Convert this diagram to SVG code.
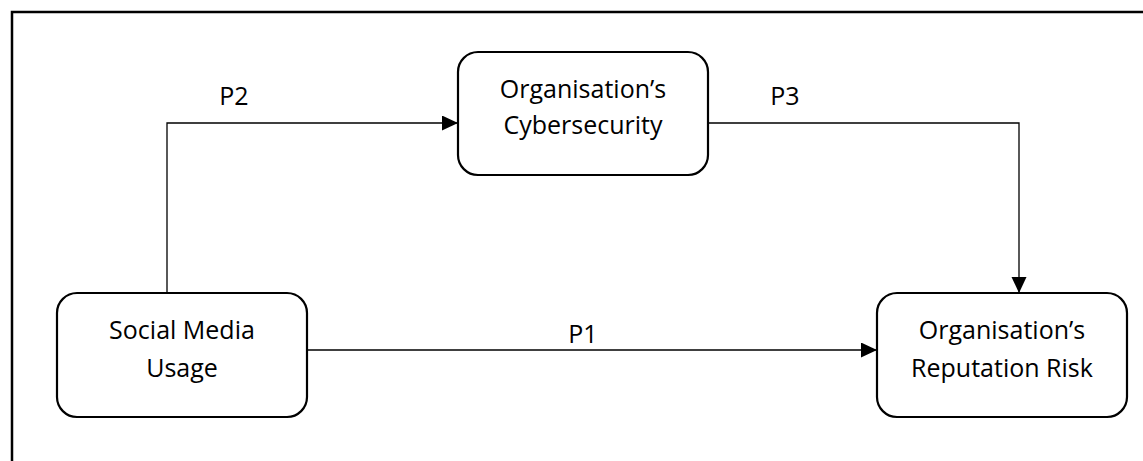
<svg xmlns="http://www.w3.org/2000/svg" width="1143" height="461" viewBox="0 0 1143 461">
  <style>
    .frame { fill: none; stroke: #000; stroke-width: 2.5; }
    .box { fill: #fff; stroke: #000; stroke-width: 2.2; }
    .conn { fill: none; stroke: #000; stroke-width: 1.3; }
    .lbl { font-family: "Open Sans", "Noto Sans", "Liberation Sans", sans-serif; font-size: 25px; fill: #000; text-anchor: middle; font-variant-ligatures: none; }
  </style>
  <defs>
    <marker id="arrow" markerUnits="userSpaceOnUse" markerWidth="18" markerHeight="16" refX="16" refY="7.5" orient="auto">
      <path d="M0,0 L16,7.5 L0,15 Z" fill="#000"/>
    </marker>
  </defs>
  <rect x="0" y="0" width="1143" height="461" fill="#fff"/>
  <path class="frame" d="M12,461 V12 H1143"/>
  <g id="connectors">
    <path class="conn" d="M167,293 V123 H458" marker-end="url(#arrow)"/>
    <path class="conn" d="M708,123 H1019 V293" marker-end="url(#arrow)"/>
    <path class="conn" d="M307,350 H877" marker-end="url(#arrow)"/>
    <text class="lbl" x="234" y="105">P2</text>
    <text class="lbl" x="785" y="105">P3</text>
    <text class="lbl" x="583" y="343">P1</text>
  </g>
  <g id="cybersecurity">
    <rect class="box" x="458" y="52" width="250" height="123" rx="20"/>
    <text class="lbl" x="583" y="98">Organisation’s</text>
    <text class="lbl" x="583" y="134">Cybersecurity</text>
  </g>
  <g id="social-media">
    <rect class="box" x="57" y="293" width="250" height="124" rx="20"/>
    <text class="lbl" x="182" y="339">Social Media</text>
    <text class="lbl" x="182" y="377">Usage</text>
  </g>
  <g id="reputation-risk">
    <rect class="box" x="877" y="293" width="250" height="124" rx="20"/>
    <text class="lbl" x="1002" y="339">Organisation’s</text>
    <text class="lbl" x="1002" y="377">Reputation Risk</text>
  </g>
</svg>
